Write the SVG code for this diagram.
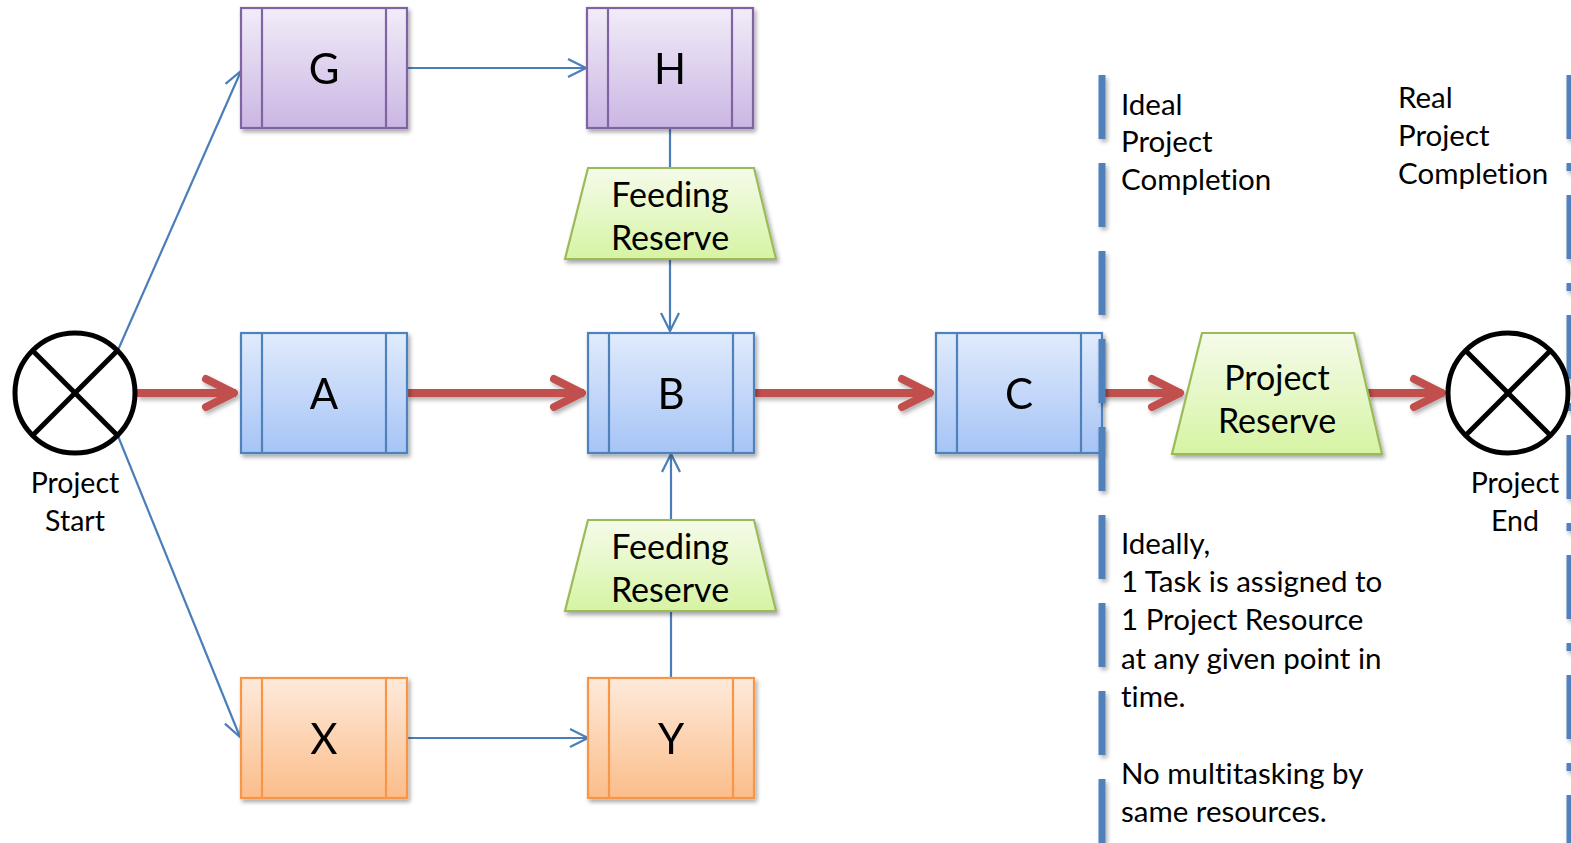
<svg xmlns="http://www.w3.org/2000/svg" width="1571" height="843" viewBox="0 0 1571 843">
<defs>
<linearGradient id="gBlue" x1="0" y1="0" x2="0" y2="1"><stop offset="0" stop-color="#E1EBFC"/><stop offset="1" stop-color="#A6C4F6"/></linearGradient>
<linearGradient id="gPurple" x1="0" y1="0" x2="0" y2="1"><stop offset="0" stop-color="#F2ECF8"/><stop offset="1" stop-color="#CAB6E4"/></linearGradient>
<linearGradient id="gOrange" x1="0" y1="0" x2="0" y2="1"><stop offset="0" stop-color="#FEEADB"/><stop offset="1" stop-color="#FBBD8A"/></linearGradient>
<linearGradient id="gGreen" x1="0" y1="0" x2="0" y2="1"><stop offset="0" stop-color="#F5FBEA"/><stop offset="1" stop-color="#D6F4A3"/></linearGradient>
<filter id="sh" x="-20%" y="-20%" width="140%" height="150%"><feDropShadow dx="2" dy="3" stdDeviation="2" flood-color="#000" flood-opacity="0.35"/></filter>
<filter id="shU" filterUnits="userSpaceOnUse" x="0" y="0" width="1571" height="843"><feDropShadow dx="2" dy="3" stdDeviation="2" flood-color="#000" flood-opacity="0.3"/></filter>
<marker id="mBlue" markerUnits="userSpaceOnUse" viewBox="-20 -10 22 20" refX="0" refY="0" markerWidth="22" markerHeight="20" orient="auto" overflow="visible">
<path d="M-18,-9 L0,0 L-18,9" fill="none" stroke="#4A7EBB" stroke-width="2.2" stroke-linejoin="miter"/>
</marker>
<marker id="mRed" markerUnits="userSpaceOnUse" viewBox="-40 -20 44 40" refX="0" refY="0" markerWidth="44" markerHeight="40" orient="auto" overflow="visible">
<path d="M-30,-14 L-2,0 L-30,14" fill="none" stroke="#C0504D" stroke-width="8" stroke-linecap="round" stroke-linejoin="round"/>
</marker>
</defs>
<style>
text{font-variant-ligatures:none}
.task{stroke-width:2.2}
.blue{fill:url(#gBlue);stroke:#4F81BD}
.purple{fill:url(#gPurple);stroke:#8064A2}
.orange{fill:url(#gOrange);stroke:#F79646}
.res{fill:url(#gGreen);stroke:#9BBB59;stroke-width:2.2}
.big{font-family:Lato,"Liberation Sans",sans-serif;font-size:42px;fill:#000;text-anchor:middle}
.mid{font-family:Lato,"Liberation Sans",sans-serif;font-size:34px;fill:#000;text-anchor:middle}
.note{font-family:Lato,"Liberation Sans",sans-serif;font-size:29.5px;fill:#000}
.lbl{font-family:Lato,"Liberation Sans",sans-serif;font-size:28.5px;fill:#000;text-anchor:middle}
.ln{fill:none;stroke:#4A7EBB;stroke-width:2.2}
.red{fill:none;stroke:#C0504D;stroke-width:8}
.circ{fill:#fff;stroke:#000;stroke-width:5}
.dash{stroke:#4F81BD;stroke-width:7;fill:none}
</style>

<g id="connectors">
<line class="ln" x1="118" y1="350" x2="241" y2="71" marker-end="url(#mBlue)"/>
<line class="ln" x1="118" y1="436" x2="240" y2="737" marker-end="url(#mBlue)"/>
<line class="ln" x1="407" y1="68" x2="586" y2="68" marker-end="url(#mBlue)"/>
<line class="ln" x1="407" y1="738" x2="588" y2="738" marker-end="url(#mBlue)"/>
<line class="ln" x1="670" y1="128" x2="670" y2="168"/>
<line class="ln" x1="670" y1="259" x2="670" y2="331" marker-end="url(#mBlue)"/>
<line class="ln" x1="671" y1="678" x2="671" y2="611"/>
<line class="ln" x1="671" y1="520" x2="671" y2="454" marker-end="url(#mBlue)"/>
<g filter="url(#shU)">
<line class="red" x1="137" y1="393" x2="236" y2="393" marker-end="url(#mRed)"/>
<line class="red" x1="407" y1="393" x2="584" y2="393" marker-end="url(#mRed)"/>
<line class="red" x1="755" y1="393" x2="932" y2="393" marker-end="url(#mRed)"/>
<line class="red" x1="1103" y1="393" x2="1182" y2="393" marker-end="url(#mRed)"/>
<line class="red" x1="1368" y1="393" x2="1444" y2="393" marker-end="url(#mRed)"/>
</g>
</g>

<g id="start">
<circle class="circ" cx="75" cy="393" r="60"/>
<line x1="32" y1="350" x2="118" y2="436" stroke="#000" stroke-width="5"/>
<line x1="118" y1="350" x2="32" y2="436" stroke="#000" stroke-width="5"/>
<text class="lbl" x="75" y="493">Project</text>
<text class="lbl" x="75" y="531">Start</text>
</g>

<g id="G" filter="url(#sh)">
<rect class="task purple" x="241" y="8" width="166" height="120"/>
<line class="task purple" x1="262" y1="8" x2="262" y2="128"/>
<line class="task purple" x1="386" y1="8" x2="386" y2="128"/>
<text class="big" x="324" y="84">G</text>
</g>
<g id="H" filter="url(#sh)">
<rect class="task purple" x="587" y="8" width="166" height="120"/>
<line class="task purple" x1="608" y1="8" x2="608" y2="128"/>
<line class="task purple" x1="732" y1="8" x2="732" y2="128"/>
<text class="big" x="670" y="84">H</text>
</g>
<g id="A" filter="url(#sh)">
<rect class="task blue" x="241" y="333" width="166" height="120"/>
<line class="task blue" x1="262" y1="333" x2="262" y2="453"/>
<line class="task blue" x1="386" y1="333" x2="386" y2="453"/>
<text class="big" x="324" y="409">A</text>
</g>
<g id="B" filter="url(#sh)">
<rect class="task blue" x="588" y="333" width="166" height="120"/>
<line class="task blue" x1="609" y1="333" x2="609" y2="453"/>
<line class="task blue" x1="733" y1="333" x2="733" y2="453"/>
<text class="big" x="671" y="409">B</text>
</g>
<g id="C" filter="url(#sh)">
<rect class="task blue" x="936" y="333" width="166" height="120"/>
<line class="task blue" x1="957" y1="333" x2="957" y2="453"/>
<line class="task blue" x1="1081" y1="333" x2="1081" y2="453"/>
<text class="big" x="1019" y="409">C</text>
</g>
<g id="X" filter="url(#sh)">
<rect class="task orange" x="241" y="678" width="166" height="120"/>
<line class="task orange" x1="262" y1="678" x2="262" y2="798"/>
<line class="task orange" x1="386" y1="678" x2="386" y2="798"/>
<text class="big" x="324" y="754">X</text>
</g>
<g id="Y" filter="url(#sh)">
<rect class="task orange" x="588" y="678" width="166" height="120"/>
<line class="task orange" x1="609" y1="678" x2="609" y2="798"/>
<line class="task orange" x1="733" y1="678" x2="733" y2="798"/>
<text class="big" x="671" y="754">Y</text>
</g>

<g id="feeding-top">
<polygon class="res" filter="url(#sh)" points="588,168 754,168 776,259 565,259"/>
<text class="mid" x="670" y="207">Feeding</text>
<text class="mid" x="670" y="250">Reserve</text>
</g>
<g id="feeding-bottom">
<polygon class="res" filter="url(#sh)" points="588,520 754,520 776,611 565,611"/>
<text class="mid" x="670" y="559">Feeding</text>
<text class="mid" x="670" y="602">Reserve</text>
</g>
<g id="project-reserve">
<polygon class="res" filter="url(#sh)" points="1202,333 1354,333 1382,454 1172,454"/>
<text class="mid" x="1277" y="390">Project</text>
<text class="mid" x="1277" y="433">Reserve</text>
</g>

<g id="ideal-line" filter="url(#shU)">
<line class="dash" x1="1102" y1="75" x2="1102" y2="843" stroke-dasharray="64 24"/>
</g>
<g id="real-line" filter="url(#shU)">
<line class="dash" x1="1570" y1="75" x2="1570" y2="843" stroke-dasharray="64 24 8 24"/>
</g>

<g id="end">
<circle class="circ" cx="1508" cy="393" r="60"/>
<line x1="1465" y1="350" x2="1551" y2="436" stroke="#000" stroke-width="5"/>
<line x1="1551" y1="350" x2="1465" y2="436" stroke="#000" stroke-width="5"/>
<text class="lbl" x="1515" y="493">Project</text>
<text class="lbl" x="1515" y="531">End</text>
</g>

<g id="ideal-label">
<text class="note" x="1121" y="115">Ideal</text>
<text class="note" x="1121" y="152">Project</text>
<text class="note" x="1121" y="190">Completion</text>
</g>
<g id="real-label">
<text class="note" x="1398" y="108">Real</text>
<text class="note" x="1398" y="146">Project</text>
<text class="note" x="1398" y="184">Completion</text>
</g>
<g id="note">
<text class="note" x="1121" y="554">Ideally,</text>
<text class="note" x="1121" y="592">1 Task is assigned to</text>
<text class="note" x="1121" y="630">1 Project Resource</text>
<text class="note" x="1121" y="669">at any given point in</text>
<text class="note" x="1121" y="707">time.</text>
<text class="note" x="1121" y="784">No multitasking by</text>
<text class="note" x="1121" y="822">same resources.</text>
</g>
</svg>
